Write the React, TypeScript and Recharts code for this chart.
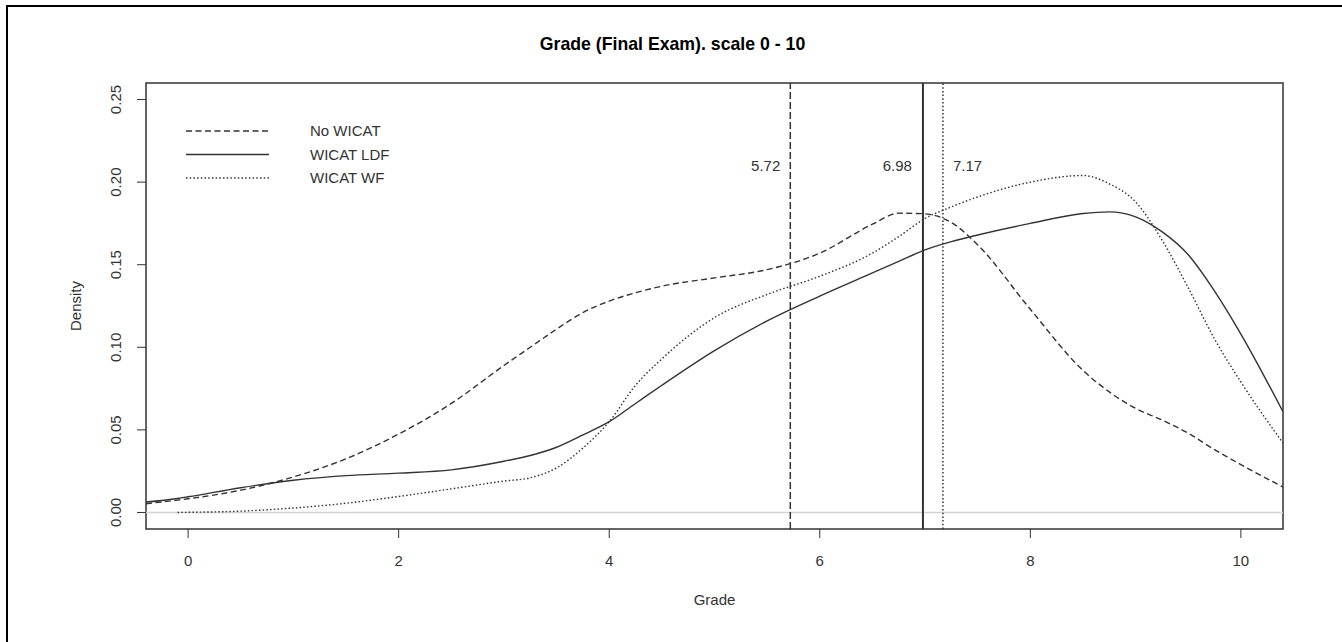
import React from "react";
import {
  LineChart,
  Line,
  XAxis,
  YAxis,
  ReferenceLine,
  ReferenceArea,
  ReferenceDot,
  Legend,
} from "recharts";

// grade grid (x) and kernel density estimates
const grades = [-0.4, -0.1, 0, 0.5, 1, 1.5, 2, 2.5, 3, 3.25, 3.5, 3.75, 4, 4.25, 4.5, 5, 5.5, 6, 6.5, 6.75, 7, 7.25, 7.5, 8, 8.5, 8.75, 9, 9.25, 9.5, 9.75, 10, 10.4];
const noWicat = [0.0053, 0.0075, 0.0083, 0.0135, 0.0215, 0.0325, 0.0475, 0.066, 0.089, 0.1, 0.111, 0.121, 0.128, 0.133, 0.137, 0.142, 0.147, 0.157, 0.1745, 0.1812, 0.1808, 0.1755, 0.162, 0.123, 0.086, 0.073, 0.063, 0.056, 0.048, 0.038, 0.029, 0.0154];
const wicatLdf = [0.0063, 0.0085, 0.0095, 0.015, 0.0195, 0.0223, 0.0238, 0.0258, 0.031, 0.0345, 0.0395, 0.047, 0.055, 0.066, 0.077, 0.098, 0.116, 0.131, 0.145, 0.152, 0.159, 0.164, 0.168, 0.175, 0.181, 0.182, 0.179, 0.17, 0.156, 0.134, 0.108, 0.061];
const wicatWf = [null, 0, 0.0001, 0.0008, 0.0027, 0.0056, 0.0097, 0.0143, 0.019, 0.021, 0.027, 0.039, 0.055, 0.077, 0.093, 0.118, 0.132, 0.143, 0.157, 0.167, 0.178, 0.185, 0.191, 0.2, 0.204, 0.199, 0.188, 0.165, 0.136, 0.105, 0.079, 0.042];

const seriesNames = ["No WICAT", "WICAT LDF", "WICAT WF"];
const means = [5.72, 6.98, 7.17];
const meanLabelY = 0.21;

const xTicks = [0, 2, 4, 6, 8, 10];
const yTicks = [0, 0.05, 0.1, 0.15, 0.2, 0.25];
const xDomain = [-0.4, 10.4];
const yDomain = [-0.01, 0.26];

const data = grades.map((g, i) => ({
  grade: g,
  noWicat: noWicat[i],
  wicatLdf: wicatLdf[i],
  wicatWf: wicatWf[i],
}));

const FONT = "'Liberation Sans', Arial, sans-serif";
const INK = "#333";
const DASH = "6 3.5";
const DOT = "1.5 2.2";
const styles = [DASH, undefined, DOT];

const YTick = (props: any) => {
  const { x, y, payload } = props;
  const bx = x - 14;
  return (
    <text
      x={bx}
      y={y}
      transform={`rotate(-90, ${bx}, ${y})`}
      textAnchor="middle"
      fontSize={15}
      fontFamily={FONT}
      fill={INK}
    >
      {payload.value.toFixed(2)}
    </text>
  );
};

const LegendBox = () => (
  <svg width={320} height={80} style={{ overflow: "visible" }}>
    {seriesNames.map((name, i) => {
      const y = 12 + i * 23.5;
      return (
        <g key={name}>
          <line x1={0} x2={83} y1={y} y2={y} stroke={INK} strokeWidth={1.5} strokeDasharray={styles[i]} />
          <text x={124} y={y} dy="0.36em" fontSize={15} fontFamily={FONT} fill={INK}>
            {name}
          </text>
        </g>
      );
    })}
  </svg>
);

export default function App() {
  return (
    <div style={{ position: "absolute", left: 0, top: 0, width: 1342, height: 642, overflow: "hidden", background: "#fff" }}>
      <div style={{ position: "absolute", left: 6, top: 5, width: 2000, height: 1000, borderLeft: "2px solid #000", borderTop: "2px solid #000" }} />
      <LineChart
        width={1342}
        height={642}
        data={data}
        margin={{ top: 83, right: 59, bottom: 53, left: 86 }}
        style={{ position: "absolute", left: 0, top: 0 }}
      >
        <XAxis
          dataKey="grade"
          type="number"
          domain={xDomain}
          ticks={xTicks}
          allowDataOverflow
          axisLine={false}
          tickSize={9}
          tickMargin={17}
          height={60}
          stroke={INK}
          tick={{ fontSize: 15, fontFamily: FONT, fill: INK }}
        />
        <YAxis
          type="number"
          domain={yDomain}
          ticks={yTicks}
          allowDataOverflow
          axisLine={false}
          tickSize={9}
          width={60}
          stroke={INK}
          tick={<YTick />}
        />
        <Legend
          verticalAlign="middle"
          align="center"
          layout="horizontal"
          content={<LegendBox />}
          wrapperStyle={{ left: 186, top: 119, width: 320, height: 80 }}
        />
        <ReferenceLine y={0} stroke="#d3d3d3" strokeWidth={1.6} />
        <Line dataKey="noWicat" name={seriesNames[0]} type="monotone" stroke={INK} strokeWidth={1.4} strokeDasharray={DASH} dot={false} isAnimationActive={false} />
        <Line dataKey="wicatLdf" name={seriesNames[1]} type="monotone" stroke={INK} strokeWidth={1.4} dot={false} isAnimationActive={false} />
        <Line dataKey="wicatWf" name={seriesNames[2]} type="monotone" stroke={INK} strokeWidth={1.4} strokeDasharray={DOT} dot={false} isAnimationActive={false} />
        <ReferenceLine x={means[0]} stroke={INK} strokeWidth={1.5} strokeDasharray="7 3" />
        <ReferenceLine x={means[1]} stroke={INK} strokeWidth={2} />
        <ReferenceLine x={means[2]} stroke={INK} strokeWidth={1.5} strokeDasharray={DOT} />
        {means.map((m, i) => (
          <ReferenceDot
            key={m}
            x={m}
            y={meanLabelY}
            r={0}
            fill="none"
            stroke="none"
            label={{
              value: m.toFixed(2),
              position: i === 2 ? "right" : "left",
              offset: i === 1 ? 11 : 10,
              fontSize: 15,
              fontFamily: FONT,
              fill: INK,
            }}
          />
        ))}
        <ReferenceArea
          x1={xDomain[0]}
          x2={xDomain[1]}
          y1={yDomain[0]}
          y2={yDomain[1]}
          fill="none"
          fillOpacity={0}
          stroke={INK}
          strokeWidth={1.5}
          ifOverflow="visible"
        />
      </LineChart>
      <svg width={1342} height={642} style={{ position: "absolute", left: 0, top: 0, pointerEvents: "none" }}>
        <text x={672.5} y={49.5} textAnchor="middle" fontSize={17.7} fontWeight="bold" fontFamily={FONT} fill="#000">
          Grade (Final Exam). scale 0 - 10
        </text>
        <text x={714.5} y={605} textAnchor="middle" fontSize={15} fontFamily={FONT} fill={INK}>
          Grade
        </text>
        <text x={81} y={306} transform="rotate(-90, 81, 306)" textAnchor="middle" fontSize={15} fontFamily={FONT} fill={INK}>
          Density
        </text>
      </svg>
    </div>
  );
}
